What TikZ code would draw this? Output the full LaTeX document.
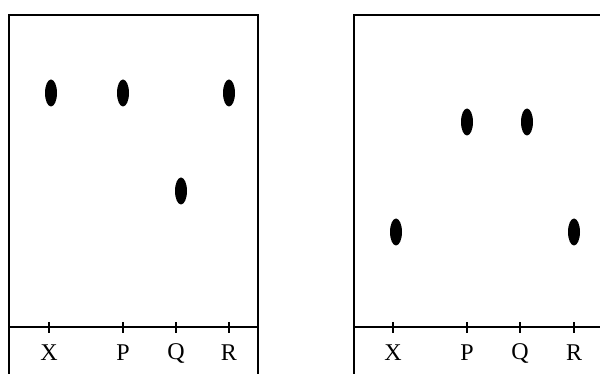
\documentclass[tikz,border=0pt]{standalone}
\usepackage{fontspec}
\setmainfont{Liberation Serif}
\usetikzlibrary{shapes.geometric}

\tikzset{
    spot/.style={ellipse, fill=black, inner sep=0pt, minimum width=12pt, minimum height=27pt},
    lane/.style={font=\fontsize{24}{28}\selectfont, inner sep=0pt},
    frame/.style={line width=1.8pt},
    tick/.style={line width=2pt},
}

\begin{document}
\begin{tikzpicture}[x=1pt, y=-1pt]
            \useasboundingbox (0,0) rectangle (600,374);
            % left plate
            \coordinate (a1) at (9,374);
            \coordinate (a2) at (9,15);
            \coordinate (a3) at (258,15);
            \coordinate (a4) at (258,374);
            \draw[frame] (a1) -- (a2) -- (a3) -- (a4);
            \coordinate (b1) at (9,327);
            \coordinate (b2) at (258,327);
            \draw[line width=1.1pt] (b1) -- (b2);

            \foreach \name/\x in {X/49, P/123, Q/176, R/229} {
                \coordinate (t1\name) at (\x,327);
                \draw[tick] ([yshift=5pt]t1\name) -- ([yshift=-6pt]t1\name);
                \node[lane] (l1\name) at (\x,353) {\name};
            }

            \node[spot] (s1X) at (51,93) {};
            \node[spot] (s1P) at (123,93) {};
            \node[spot] (s1R) at (229,93) {};
            \node[spot] (s1Q) at (181,191) {};

            % right plate
            \coordinate (c1) at (354,374);
            \coordinate (c2) at (354,15);
            \coordinate (c3) at (600,15);
            \draw[frame] (c1) -- (c2) -- (c3);
            \coordinate (d1) at (354,327);
            \coordinate (d2) at (600,327);
            \draw[line width=1.1pt] (d1) -- (d2);

            \foreach \name/\x in {X/393, P/467, Q/520, R/574} {
                \coordinate (t2\name) at (\x,327);
                \draw[tick] ([yshift=5pt]t2\name) -- ([yshift=-6pt]t2\name);
                \node[lane] (l2\name) at (\x,353) {\name};
            }

            \node[spot] (s2P) at (467,122) {};
            \node[spot] (s2Q) at (527,122) {};
            \node[spot] (s2X) at (396,232) {};
            \node[spot] (s2R) at (574,232) {};
        \end{tikzpicture}
\end{document}
